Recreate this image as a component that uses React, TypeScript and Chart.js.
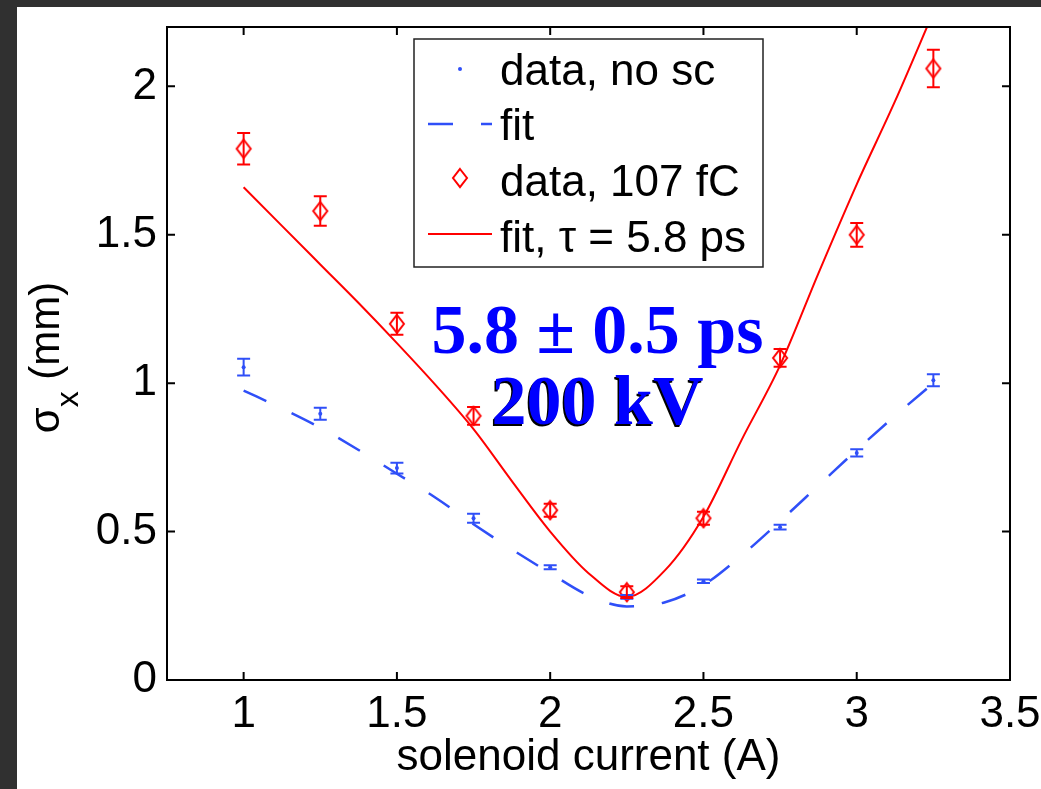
import React, { useEffect, useRef } from 'react';
import { Chart, registerables } from 'chart.js';

Chart.register(...registerables);

// ---- data ----
const xTickValues = [1, 1.5, 2, 2.5, 3, 3.5];
const yTickValues = [0, 0.5, 1, 1.5, 2];
const currents = [1, 1.25, 1.5, 1.75, 2, 2.25, 2.5, 2.75, 3, 3.25];
const noScSigma = [1.054, 0.897, 0.714, 0.545, 0.38, 0.28, 0.333, 0.515, 0.765, 1.01];
const noScError = [0.028, 0.02, 0.018, 0.015, 0.007, 0.006, 0.006, 0.008, 0.012, 0.02];
const scSigma = [1.79, 1.58, 1.2, 0.89, 0.572, 0.296, 0.545, 1.085, 1.5, 2.06];
const scError = [0.053, 0.05, 0.037, 0.03, 0.022, 0.02, 0.022, 0.03, 0.04, 0.063];
const fitCurrents = [1, 1.125, 1.25, 1.375, 1.5, 1.625, 1.75, 1.875, 2, 2.125, 2.25, 2.375, 2.5, 2.625, 2.75, 2.875, 3, 3.125, 3.25];
const noScFit = [0.975, 0.915, 0.85, 0.775, 0.695, 0.615, 0.525, 0.44, 0.36, 0.285, 0.248, 0.262, 0.32, 0.42, 0.535, 0.655, 0.775, 0.89, 1.0];
const scFit = [1.66, 1.53, 1.4, 1.27, 1.135, 0.995, 0.845, 0.67, 0.5, 0.36, 0.28, 0.37, 0.55, 0.81, 1.06, 1.37, 1.67, 1.95, 2.25];
const legendLabels = ['data, no sc', 'fit', 'data, 107 fC', 'fit, \u03c4 = 5.8 ps'];
const xTitle = 'solenoid current (A)';
const yTitleSymbol = '\u03c3';
const yTitleSub = 'x';
const yTitleRest = ' (mm)';
const noteLine1 = '5.8 \u00b1 0.5 ps';
const noteLine2 = '200 kV';

const BLUE = '#2f4ff8';
const RED = '#ff0000';
const SANS = '"Liberation Sans", Arial, Helvetica, sans-serif';
const SERIF = '"Liberation Serif", "Times New Roman", serif';

function makeDiamond(): HTMLCanvasElement {
  const c = document.createElement('canvas');
  c.width = 18;
  c.height = 22;
  const g = c.getContext('2d')!;
  g.strokeStyle = RED;
  g.lineWidth = 2;
  g.beginPath();
  g.moveTo(9, 2);
  g.lineTo(16, 11);
  g.lineTo(9, 20);
  g.lineTo(2, 11);
  g.closePath();
  g.stroke();
  return c;
}

export default function App() {
  const ref = useRef<HTMLCanvasElement | null>(null);

  useEffect(() => {
    const canvas = ref.current;
    if (!canvas) return;
    const diamond = makeDiamond();

    const decor = {
      id: 'decor',
      afterDatasetsDraw(chart: any) {
        const { ctx, chartArea: a, scales } = chart;
        const xs = scales.x;
        const ys = scales.y;
        ctx.save();

        // error bars
        const bars = (vals: number[], errs: number[], color: string) => {
          ctx.strokeStyle = color;
          ctx.lineWidth = 2;
          currents.forEach((c, i) => {
            const px = xs.getPixelForValue(c);
            const p1 = ys.getPixelForValue(vals[i] - errs[i]);
            const p2 = ys.getPixelForValue(vals[i] + errs[i]);
            ctx.beginPath();
            ctx.moveTo(px, p1);
            ctx.lineTo(px, p2);
            ctx.moveTo(px - 6.5, p1);
            ctx.lineTo(px + 6.5, p1);
            ctx.moveTo(px - 6.5, p2);
            ctx.lineTo(px + 6.5, p2);
            ctx.stroke();
          });
        };
        bars(noScSigma, noScError, BLUE);
        bars(scSigma, scError, RED);

        // axes box + inward ticks
        ctx.strokeStyle = '#000';
        ctx.lineWidth = 2;
        ctx.strokeRect(a.left, a.top, a.right - a.left, a.bottom - a.top);
        ctx.beginPath();
        xTickValues.forEach((v) => {
          const px = xs.getPixelForValue(v);
          ctx.moveTo(px, a.bottom);
          ctx.lineTo(px, a.bottom - 8);
          ctx.moveTo(px, a.top);
          ctx.lineTo(px, a.top + 8);
        });
        yTickValues.forEach((v) => {
          const py = ys.getPixelForValue(v);
          ctx.moveTo(a.left, py);
          ctx.lineTo(a.left + 8, py);
          ctx.moveTo(a.right, py);
          ctx.lineTo(a.right - 8, py);
        });
        ctx.stroke();

        // legend
        const lx = 397, ly = 32, lw = 349, lh = 228;
        ctx.fillStyle = '#fff';
        ctx.fillRect(lx, ly, lw, lh);
        ctx.strokeStyle = '#222';
        ctx.lineWidth = 1.5;
        ctx.strokeRect(lx, ly, lw, lh);
        const symY = [62, 117, 171, 227];
        const baseY = [78, 133, 189, 245];
        ctx.fillStyle = BLUE;
        ctx.beginPath();
        ctx.arc(443, symY[0], 2, 0, Math.PI * 2);
        ctx.fill();
        ctx.strokeStyle = BLUE;
        ctx.lineWidth = 2.5;
        ctx.setLineDash([25, 28]);
        ctx.beginPath();
        ctx.moveTo(411, symY[1]);
        ctx.lineTo(475, symY[1]);
        ctx.stroke();
        ctx.setLineDash([]);
        ctx.drawImage(diamond, 443 - diamond.width / 2, symY[2] - diamond.height / 2);
        ctx.strokeStyle = RED;
        ctx.lineWidth = 2;
        ctx.beginPath();
        ctx.moveTo(411, symY[3]);
        ctx.lineTo(475, symY[3]);
        ctx.stroke();
        ctx.fillStyle = '#000';
        ctx.font = '44px ' + SANS;
        ctx.textAlign = 'left';
        ctx.textBaseline = 'alphabetic';
        legendLabels.forEach((t, i) => ctx.fillText(t, 483, baseY[i]));

        // annotation
        ctx.textAlign = 'center';
        ctx.font = 'bold 70px ' + SERIF;
        ctx.fillStyle = '#0000ff';
        ctx.fillText(noteLine1, 580.5, 346);
        ctx.font = 'bold 70px ' + SERIF;
        ctx.fillStyle = '#000';
        ctx.fillText(noteLine2, 579, 419);
        ctx.fillStyle = '#0000ff';
        ctx.fillText(noteLine2, 580.5, 417);

        // y title with subscript
        ctx.save();
        ctx.translate(42, (a.top + a.bottom) / 2 + 4);
        ctx.rotate(-Math.PI / 2);
        ctx.textAlign = 'left';
        ctx.fillStyle = '#000';
        ctx.font = '42px ' + SANS;
        const w1 = ctx.measureText(yTitleSymbol).width;
        const w3 = ctx.measureText(yTitleRest).width;
        ctx.font = '32px ' + SANS;
        const w2 = ctx.measureText(yTitleSub).width;
        let sx = -(w1 + w2 + w3) / 2;
        ctx.font = '42px ' + SANS;
        ctx.fillText(yTitleSymbol, sx, 0);
        sx += w1;
        ctx.font = '32px ' + SANS;
        ctx.fillText(yTitleSub, sx, 19);
        sx += w2;
        ctx.font = '42px ' + SANS;
        ctx.fillText(yTitleRest, sx, 0);
        ctx.restore();

        ctx.restore();
      },
    };

    const chart = new Chart(canvas, {
      type: 'scatter',
      data: {
        datasets: [
          {
            label: legendLabels[3],
            data: fitCurrents.map((c, i) => ({ x: c, y: scFit[i] })),
            showLine: true,
            borderColor: RED,
            borderWidth: 2,
            pointRadius: 0,
            cubicInterpolationMode: 'monotone',
            order: 0,
          },
          {
            label: legendLabels[2],
            data: currents.map((c, i) => ({ x: c, y: scSigma[i] })),
            pointStyle: diamond,
            pointRadius: 8,
            showLine: false,
            order: 1,
          },
          {
            label: legendLabels[1],
            data: fitCurrents.map((c, i) => ({ x: c, y: noScFit[i] })),
            showLine: true,
            borderColor: BLUE,
            borderWidth: 2.5,
            borderDash: [25, 28],
            pointRadius: 0,
            cubicInterpolationMode: 'monotone',
            order: 2,
          },
          {
            label: legendLabels[0],
            data: currents.map((c, i) => ({ x: c, y: noScSigma[i] })),
            pointStyle: 'circle',
            pointRadius: 2,
            backgroundColor: BLUE,
            borderColor: BLUE,
            borderWidth: 0,
            showLine: false,
            order: 3,
          },
        ],
      } as any,
      options: {
        animation: false,
        responsive: false,
        events: [],
        layout: { padding: { top: 20, right: 31, left: 0, bottom: 0 } },
        plugins: { legend: { display: false }, tooltip: { enabled: false } },
        scales: {
          x: {
            type: 'linear',
            min: 0.75,
            max: 3.5,
            afterBuildTicks: (s: any) => {
              s.ticks = xTickValues.map((v) => ({ value: v }));
            },
            afterFit: (s: any) => {
              s.height = 109;
              s.paddingLeft = 0;
              s.paddingRight = 0;
            },
            grid: { display: false, drawTicks: false },
            border: { display: false },
            ticks: {
              color: '#000',
              font: { family: SANS, size: 44 },
              padding: 8,
              autoSkip: false,
              maxRotation: 0,
              callback: (v: any) => String(v),
            },
            title: {
              display: true,
              text: xTitle,
              color: '#000',
              font: { family: SANS, size: 44 },
              padding: { top: 0, bottom: 5 },
            },
          },
          y: {
            type: 'linear',
            min: 0,
            max: 2.2,
            afterBuildTicks: (s: any) => {
              s.ticks = yTickValues.map((v) => ({ value: v }));
            },
            afterFit: (s: any) => {
              s.width = 150;
              s.paddingTop = 0;
              s.paddingBottom = 0;
            },
            grid: { display: false, drawTicks: false },
            border: { display: false },
            ticks: {
              color: '#000',
              font: { family: SANS, size: 44 },
              padding: 10,
              autoSkip: false,
              callback: (v: any) => String(v),
            },
          },
        },
      } as any,
      plugins: [decor],
    });

    return () => chart.destroy();
  }, []);

  return (
    <div style={{ position: 'fixed', left: 0, top: 0, width: 1041, height: 789, background: '#303030', overflow: 'hidden' }}>
      <div style={{ position: 'absolute', left: 17, top: 7, width: 1024, height: 782, background: '#ffffff' }}>
        <canvas ref={ref} width={1024} height={782} style={{ display: 'block', width: 1024, height: 782 }} />
      </div>
    </div>
  );
}
